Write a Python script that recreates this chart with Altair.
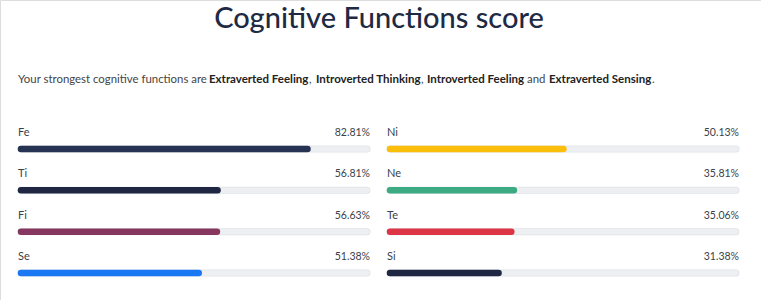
import altair as alt
import pandas as pd

# ---- data ----
title_text = "Cognitive Functions score"
sub_texts = ["Your strongest cognitive functions are", "Extraverted Feeling", ",",
             "Introverted Thinking", ",", "Introverted Feeling", "and",
             "Extraverted Sensing", "."]
sub_bold = [False, True, False, True, False, True, False, True, False]

left_funcs = ["Fe", "Ti", "Fi", "Se"]
left_vals = [82.81, 56.81, 56.63, 51.38]
right_funcs = ["Ni", "Ne", "Te", "Si"]
right_vals = [50.13, 35.81, 35.06, 31.38]
func_colors = ["#263352", "#1f2742", "#86375f", "#1a78f2",
               "#fbbf0b", "#3cab84", "#dc3545", "#1f2742"]

# ---- layout constants ----
sub_x = [18, 209, 309, 316, 421, 427, 527, 549, 652]
FONT = "Lato"

rows = []
for i, (f, v) in enumerate(zip(left_funcs, left_vals)):
    rows.append({"func": f, "value": v, "row": i, "side": "L", "full": 100,
                 "pct": f"{v:.2f}%"})
for i, (f, v) in enumerate(zip(right_funcs, right_vals)):
    rows.append({"func": f, "value": v, "row": i, "side": "R", "full": 100,
                 "pct": f"{v:.2f}%"})
df = pd.DataFrame(rows)

all_funcs = left_funcs + right_funcs
color = alt.Color("func:N", scale=alt.Scale(domain=all_funcs, range=func_colors), legend=None)
yenc = alt.Y("row:Q", scale=alt.Scale(domain=[0, 3], range=[149, 273], nice=False, zero=False), axis=None)


def column(side, rng):
    base = alt.Chart(df).transform_filter(alt.datum.side == side)
    xs = alt.Scale(domain=[0, 100], range=rng, nice=False)
    track_border = base.mark_rule(strokeWidth=7, strokeCap="round", color="#dfe3e7").encode(
        x=alt.X("zero0:Q", scale=xs, axis=None), x2="full:Q", y=yenc
    ).transform_calculate(zero0="0")
    track = base.mark_rule(strokeWidth=5.5, strokeCap="round", color="#edeff2").encode(
        x=alt.X("zero0:Q", scale=xs, axis=None), x2="full:Q", y=yenc
    ).transform_calculate(zero0="0")
    fill = base.mark_rule(strokeWidth=6.5, strokeCap="round").encode(
        x=alt.X("zero0:Q", scale=xs, axis=None), x2="value:Q", y=yenc, color=color
    ).transform_calculate(zero0="0")
    name = base.mark_text(align="left", baseline="middle", dy=-16, dx=-3, font=FONT,
                          fontSize=11, color="#3a3f4a").encode(
        x=alt.X("zero0:Q", scale=xs, axis=None), y=yenc, text="func:N"
    ).transform_calculate(zero0="0")
    pct = base.mark_text(align="right", baseline="middle", dy=-16, dx=3, font=FONT,
                         fontSize=10.5, color="#3a3f4a").encode(
        x=alt.X("full:Q", scale=xs, axis=None), y=yenc, text="pct:N"
    )
    return [track_border, track, fill, name, pct]


layers = column("L", [21, 367]) + column("R", [390, 736])

title = alt.Chart(pd.DataFrame({"t": [title_text]})).mark_text(
    align="center", baseline="middle", font=FONT, fontSize=29, fontWeight=500,
    color="#1e2a44"
).encode(x=alt.value(379), y=alt.value(19), text="t:N")
layers.append(title)

for txt, b, xp in zip(sub_texts, sub_bold, sub_x):
    layers.append(
        alt.Chart(pd.DataFrame({"t": [txt]})).mark_text(
            align="left", baseline="middle", font=FONT,
            fontSize=11.5 if b else 11.4,
            fontWeight="bold" if b else "normal",
            color="#222222" if b else "#444444"
        ).encode(x=alt.value(xp), y=alt.value(80), text="t:N")
    )

chart = alt.layer(*layers).resolve_scale(x="independent").properties(
    width=761, height=300, padding=0,
    autosize=alt.AutoSizeParams(type="none")
).configure_view(stroke=None).configure(background="white")

chart.save("out.html", embed_options={"renderer": "svg", "actions": False})
